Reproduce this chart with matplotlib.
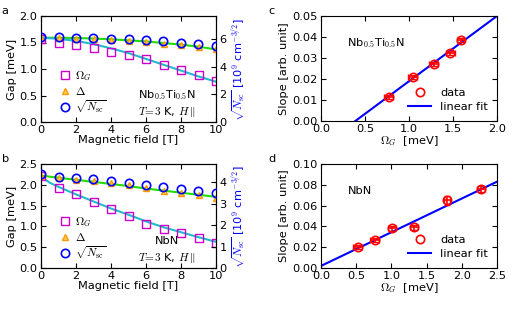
import numpy as np
import matplotlib
matplotlib.use("Agg")
import matplotlib.pyplot as plt
from matplotlib.ticker import FormatStrFormatter

plt.rcParams['font.family'] = ['DejaVu Sans']
plt.rcParams['mathtext.fontset'] = 'cm'
plt.rcParams['font.size'] = 8.2
plt.rcParams['xtick.direction'] = 'in'
plt.rcParams['ytick.direction'] = 'in'
plt.rcParams['xtick.top'] = True
plt.rcParams['ytick.right'] = True
plt.rcParams['xtick.major.pad'] = 2.5
plt.rcParams['ytick.major.pad'] = 2.5

# ---- data: panel a (Nb0.5Ti0.5N) ----
field = [0, 1, 2, 3, 4, 5, 6, 7, 8, 9, 10]
omega_a = [1.57, 1.49, 1.46, 1.40, 1.33, 1.26, 1.18, 1.08, 0.98, 0.88, 0.77]
delta_a = [1.58, 1.58, 1.57, 1.56, 1.55, 1.53, 1.51, 1.48, 1.45, 1.42, 1.37]
nsc_a = [6.13, 6.10, 6.09, 6.07, 6.02, 5.97, 5.90, 5.83, 5.73, 5.63, 5.46]
fit_omega_a = [1.59, 1.57, 1.53, 1.47, 1.39, 1.30, 1.19, 1.08, 0.97, 0.86, 0.76]
fit_delta_a = [1.59, 1.59, 1.585, 1.575, 1.56, 1.54, 1.52, 1.49, 1.46, 1.42, 1.37]

# ---- data: panel b (NbN) ----
omega_b = [2.22, 1.93, 1.79, 1.58, 1.41, 1.25, 1.05, 0.93, 0.84, 0.73, 0.61]
delta_b = [2.22, 2.16, 2.12, 2.08, 2.04, 1.99, 1.92, 1.86, 1.81, 1.75, 1.68]
nsc_b = [4.37, 4.26, 4.20, 4.14, 4.04, 3.97, 3.86, 3.77, 3.68, 3.58, 3.49]
fit_field_b = [0, 0.25, 0.5, 1, 2, 3, 4, 5, 6, 7, 8, 9, 10]
fit_omega_b = [2.22, 2.12, 2.05, 1.95, 1.77, 1.60, 1.43, 1.28, 1.12, 0.98, 0.86, 0.74, 0.63]
fit_delta_b = [2.22, 2.21, 2.195, 2.17, 2.12, 2.07, 2.02, 1.97, 1.91, 1.86, 1.81, 1.76, 1.71]

# ---- data: panel c ----
om_c = [0.77, 1.04, 1.28, 1.47, 1.59]
slope_c = [0.0115, 0.021, 0.027, 0.0325, 0.0385]
xerr_c = [0.05, 0.05, 0.05, 0.05, 0.04]
yerr_c = [0.001, 0.001, 0.001, 0.001, 0.001]
fit_x_c = [0.39, 2.0]
fit_y_c = [0.0, 0.05]

# ---- data: panel d ----
om_d = [0.52, 0.76, 1.01, 1.32, 1.79, 2.27]
slope_d = [0.020, 0.027, 0.038, 0.039, 0.065, 0.076]
xerr_d = [0.06, 0.06, 0.06, 0.06, 0.04, 0.06]
yerr_d = [0.002, 0.002, 0.002, 0.002, 0.004, 0.003]
fit_x_d = [0.0, 2.5]
fit_y_d = [0.002, 0.083]

W, H = 515, 309
fig = plt.figure(figsize=(W / 100, H / 100), dpi=100)


def rect(x0, y0, x1, y1):
    return [x0 / W, 1 - y1 / H, (x1 - x0) / W, (y1 - y0) / H]


def gap_panel(pos, om, de, ns, fx, fo, fd, ylim, yticks, rlim, rticks, label, sample):
    ax = fig.add_axes(pos)
    ax.plot(fx, fd, color='#22dd00', lw=1.5, zorder=2)
    ax.plot(fx, fo, color='#22bbcc', lw=1.5, zorder=2)
    ax.plot(field, om, 's', mfc='none', mec='#cc00cc', ms=6, mew=1.0, label=r'$\Omega_G$', zorder=3)
    ax.plot(field, de, '^', mfc='#ffcc55', mec='#ff9900', ms=5, mew=1.0, label=r'$\Delta$', zorder=3)
    ax.plot([], [], 'o', mfc='none', mec='#0000ff', ms=6, mew=1.2, label=r'$\sqrt{N_{\rm sc}}$')
    ax.set_xlim(0, 10)
    ax.set_xticks([0, 2, 4, 6, 8, 10])
    ax.xaxis.set_major_formatter(FormatStrFormatter('%d'))
    ax.set_ylim(*ylim)
    ax.set_yticks(yticks)
    ax.yaxis.set_major_formatter(FormatStrFormatter('%.1f'))
    ax.set_xlabel('Magnetic field [T]', labelpad=0)
    ax.set_ylabel('Gap [meV]', labelpad=2)
    ax.legend(loc='lower left', frameon=False, handletextpad=0.4, labelspacing=0.15,
              borderaxespad=0.1, handlelength=1.0, bbox_to_anchor=(0.07, 0.01))
    ax.text(0.72, 0.255, sample, transform=ax.transAxes, ha='center', va='center')
    ax.text(0.72, 0.095, r'$T\!=\!3$ K, $H\,\|$', transform=ax.transAxes, ha='center', va='center')
    ax2 = ax.twinx()
    ax2.plot(field, ns, 'o', mfc='none', mec='#0000ff', ms=6, mew=1.2, zorder=4)
    ax2.set_ylim(*rlim)
    ax2.set_yticks(rticks)
    ax2.yaxis.set_major_formatter(FormatStrFormatter('%d'))
    ax2.tick_params(direction='in')
    ax2.set_ylabel(r'$\sqrt{N_{\rm sc}}$ [10$^9$ cm$^{-3/2}$]', color='#0000ff', labelpad=2)
    ax.text(-0.225, 1.0, label, transform=ax.transAxes, ha='left', va='bottom')
    return ax


gap_panel(rect(41, 16, 216, 122), omega_a, delta_a, nsc_a, field, fit_omega_a, fit_delta_a,
          (0, 2.0), [0, 0.5, 1.0, 1.5, 2.0], (0, 7.65), [0, 2, 4, 6], 'a',
          r'Nb$_{0.5}$Ti$_{0.5}$N')
gap_panel(rect(41, 164, 216, 268), omega_b, delta_b, nsc_b, fit_field_b, fit_omega_b, fit_delta_b,
          (0, 2.5), [0, 0.5, 1.0, 1.5, 2.0, 2.5], (0, 4.85), [0, 1, 2, 3, 4], 'b', 'NbN')


def slope_panel(pos, x, y, xe, ye, fx, fy, xlim, xticks, ylim, yticks, label, sample):
    ax = fig.add_axes(pos)
    ax.plot(fx, fy, color='#0000ff', lw=1.5, label='linear fit', zorder=2)
    ax.errorbar(x, y, xerr=xe, yerr=ye, fmt='none', ecolor='#ff0000', elinewidth=1.2,
                capsize=2, zorder=3)
    ax.plot(x, y, 'o', mfc='none', mec='#ff0000', ms=6, mew=1.2, label='data', zorder=4)
    ax.set_xlim(*xlim)
    ax.set_ylim(*ylim)
    ax.set_xticks(xticks)
    ax.set_yticks(yticks)
    ax.xaxis.set_major_formatter(FormatStrFormatter('%.1f'))
    ax.yaxis.set_major_formatter(FormatStrFormatter('%.2f'))
    ax.set_xlabel(r'$\Omega_G$  [meV]', labelpad=0)
    ax.set_ylabel('Slope [arb. unit]', labelpad=2)
    h, l = ax.get_legend_handles_labels()
    ax.legend(h[::-1], l[::-1], loc='lower right', frameon=False, handlelength=2.0,
              labelspacing=0.3, borderaxespad=0.4)
    ax.text(0.15, 0.74, sample, transform=ax.transAxes, ha='left', va='center')
    ax.text(-0.3, 1.0, label, transform=ax.transAxes, ha='left', va='bottom')
    return ax


slope_panel(rect(321, 16, 497, 121), om_c, slope_c, xerr_c, yerr_c, fit_x_c, fit_y_c,
            (0, 2.0), [0, 0.5, 1.0, 1.5, 2.0], (0, 0.05),
            [0, 0.01, 0.02, 0.03, 0.04, 0.05], 'c', r'Nb$_{0.5}$Ti$_{0.5}$N')
slope_panel(rect(321, 164, 497, 268), om_d, slope_d, xerr_d, yerr_d, fit_x_d, fit_y_d,
            (0, 2.5), [0, 0.5, 1.0, 1.5, 2.0, 2.5], (0, 0.10),
            [0, 0.02, 0.04, 0.06, 0.08, 0.10], 'd', 'NbN')

fig.savefig('out.png', dpi=100)
